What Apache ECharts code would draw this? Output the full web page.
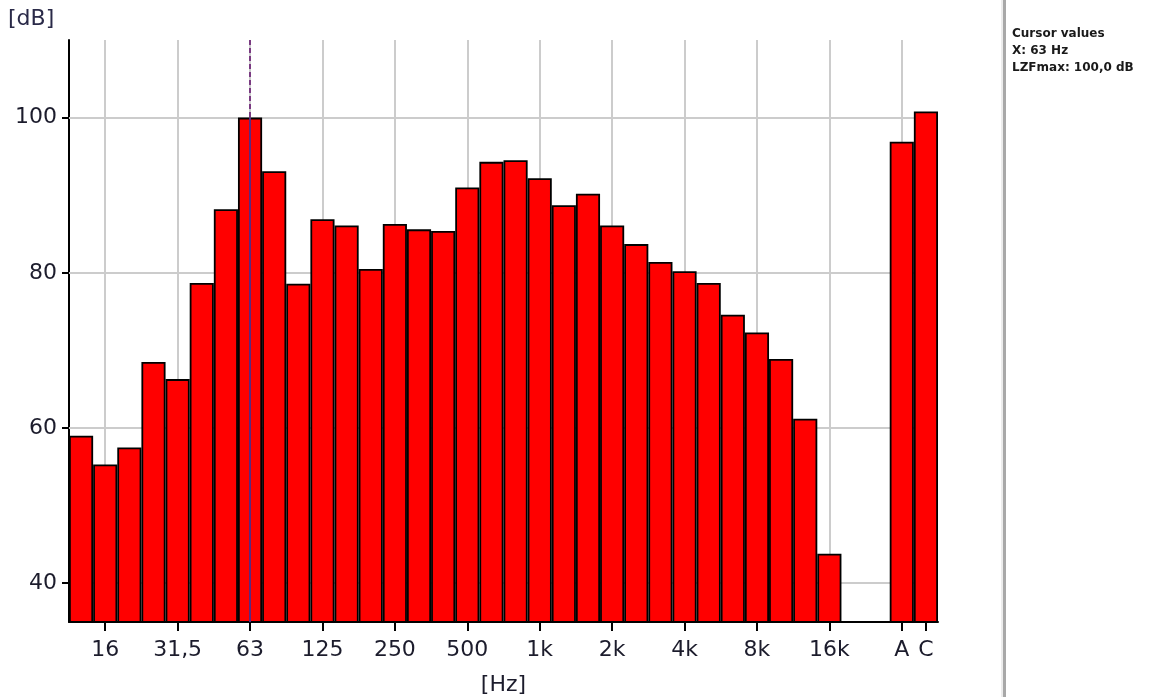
<!DOCTYPE html>
<html>
<head>
<meta charset="utf-8">
<title>LZFmax spectrum</title>
<script src="https://cdn.jsdelivr.net/npm/echarts@6/dist/echarts.min.js"></script>
<style>
  html, body { margin: 0; padding: 0; background: #ffffff; }
  #chart { width: 1149px; height: 697px; }
</style>
</head>
<body>
<div id="chart"></div>
<script>
// Third-octave bands 12.5 Hz .. 20 kHz, an empty spacer slot, then A and C totals
const bands = ['12,5', '16', '20', '25', '31,5', '40', '50', '63', '80', '100', '125', '160',
  '200', '250', '315', '400', '500', '630', '800', '1k', '1,25k', '1,6k', '2k', '2,5k',
  '3,15k', '4k', '5k', '6,3k', '8k', '10k', '12,5k', '16k', '20k', ' ', 'A', 'C'];

// LZFmax per band in dB (20 kHz below the axis floor, spacer empty)
const lzfmax = [59.0, 55.3, 57.5, 68.5, 66.3, 78.7, 88.2, 100.0, 93.1, 78.6, 86.9, 86.1,
  80.5, 86.3, 85.6, 85.4, 91.0, 94.3, 94.5, 92.2, 88.7, 90.2, 86.1, 83.7,
  81.4, 80.2, 78.7, 74.6, 72.3, 68.9, 61.2, 43.8, null, null, 96.9, 100.8];

// Bands that carry a tick label on the frequency axis
const labelledBands = ['16', '31,5', '63', '125', '250', '500', '1k', '2k', '4k', '8k', '16k', 'A', 'C'];
// Bands that get a vertical grid line
const gridBands = ['16', '31,5', '63', '125', '250', '500', '1k', '2k', '4k', '8k', '16k', 'A'];
// Level tick labels
const levelTicks = [40, 60, 80, 100];

const yMin = 35, yMax = 110;
const cursorBand = '63';
const cursorValue = lzfmax[bands.indexOf(cursorBand)];

const font = '"DejaVu Sans", sans-serif';
const textColor = '#1c1c2c';

const showLabel = (idx, name) => labelledBands.indexOf(name) >= 0;

const gridLines = [];
gridBands.forEach(b => gridLines.push({ xAxis: b }));
levelTicks.forEach(v => gridLines.push({ yAxis: v }));

const chart = echarts.init(document.getElementById('chart'), null, { renderer: 'canvas' });

chart.setOption({
  animation: false,
  backgroundColor: '#ffffff',
  grid: { left: 69, right: 211, top: 40, bottom: 75, outerBoundsMode: 'none', containLabel: false },
  xAxis: {
    type: 'category',
    data: bands,
    boundaryGap: true,
    name: '[Hz]',
    nameLocation: 'middle',
    nameGap: 52,
    nameTextStyle: { fontFamily: font, fontSize: 22, color: textColor },
    axisLine: { show: true, lineStyle: { color: '#000000', width: 2 } },
    axisTick: { show: true, interval: showLabel, alignWithLabel: true, length: 9,
      lineStyle: { color: '#000000', width: 2 } },
    axisLabel: { show: true, interval: showLabel, margin: 17,
      fontFamily: font, fontSize: 22, color: textColor },
    splitLine: { show: false }
  },
  yAxis: {
    type: 'value',
    min: yMin,
    max: yMax,
    axisLine: { show: true, lineStyle: { color: '#000000', width: 2 } },
    axisTick: { show: true, length: 7, customValues: levelTicks,
      lineStyle: { color: '#000000', width: 2 } },
    axisLabel: { show: true, customValues: levelTicks, margin: 12,
      fontFamily: font, fontSize: 22, color: textColor },
    splitLine: { show: false }
  },
  series: [
    {
      // background grid, kept beneath the bars
      name: 'grid',
      type: 'line',
      data: bands.map(() => null),
      silent: true,
      z: 1,
      showSymbol: false,
      markLine: {
        z: 1,
        silent: true,
        symbol: ['none', 'none'],
        label: { show: false },
        lineStyle: { color: '#cccccc', width: 2, type: 'solid' },
        data: gridLines
      }
    },
    {
      name: 'LZFmax',
      type: 'bar',
      data: lzfmax,
      barCategoryGap: '0%',
      z: 3,
      itemStyle: { color: '#ff0000', borderColor: '#000000', borderWidth: 1.8 }
    },
    {
      // cursor at the selected band
      name: 'cursor',
      type: 'line',
      data: bands.map(() => null),
      silent: true,
      z: 6,
      showSymbol: false,
      markLine: {
        z: 6,
        silent: true,
        symbol: ['none', 'none'],
        label: { show: false },
        data: [
          [{ coord: [cursorBand, yMax], lineStyle: { color: '#7a3a82', width: 2, type: [5, 3] } },
           { coord: [cursorBand, cursorValue] }],
          [{ coord: [cursorBand, cursorValue], lineStyle: { color: '#5a2a80', width: 2, type: 'solid' } },
           { coord: [cursorBand, yMin] }]
        ]
      }
    }
  ],
  graphic: [
    {
      type: 'text', left: 8, top: 8,
      style: { text: '[dB]', font: '22px ' + font, fill: '#2a2a48' }
    },
    {
      type: 'rect', left: 1003, top: 0,
      shape: { width: 3, height: 697 },
      style: { fill: '#a8a8a8' }
    },
    {
      type: 'rect', left: 1001, top: 0,
      shape: { width: 2, height: 697 },
      style: { fill: '#ececec' }
    },
    {
      type: 'text', left: 1012, top: 25,
      style: {
        text: 'Cursor values\nX: ' + cursorBand + ' Hz\nLZFmax: ' + cursorValue.toFixed(1).replace('.', ',') + ' dB',
        font: 'bold 12px ' + font, fill: '#1a1a1a', lineHeight: 17
      }
    }
  ]
});
</script>
</body>
</html>
